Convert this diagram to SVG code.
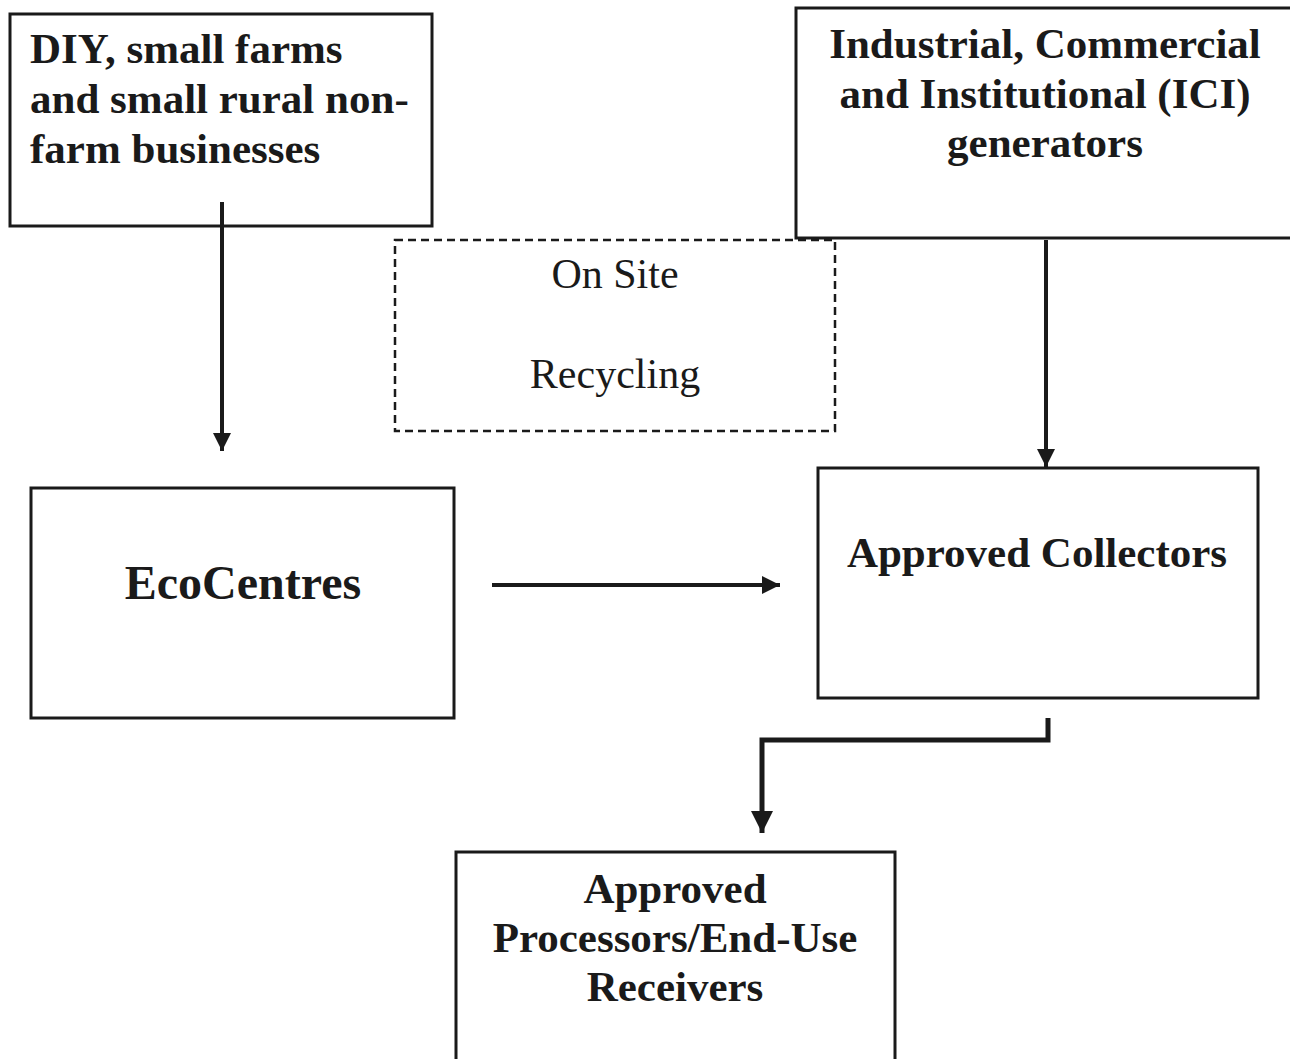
<svg xmlns="http://www.w3.org/2000/svg" width="1290" height="1059" viewBox="0 0 1290 1059">
<defs>
<style>
.box{fill:#fff;stroke:#1a1a1a;stroke-width:3}
.dash{fill:none;stroke:#1a1a1a;stroke-width:2.5;stroke-dasharray:8,5}
.b{font-family:"Liberation Serif",serif;font-weight:bold;font-size:43px;fill:#1a1a1a}
.n{font-family:"Liberation Serif",serif;font-size:42px;fill:#1a1a1a}
.c{text-anchor:middle}
.line{fill:none;stroke:#1a1a1a;stroke-width:4}
</style>
<marker id="ah" viewBox="0 0 10 10" refX="10" refY="5" markerWidth="4.5" markerHeight="6" markerUnits="strokeWidth" orient="auto">
<path d="M0,0 L10,5 L0,10 Z" fill="#1a1a1a"/>
</marker>
</defs>
<rect width="1290" height="1059" fill="#fff"/>
<g id="node-diy">
<rect class="box" x="10" y="14" width="422" height="212"/>
<text class="b" x="30" y="63">DIY, small farms</text>
<text class="b" x="30" y="113">and small rural non-</text>
<text class="b" x="30" y="163">farm businesses</text>
</g>
<g id="node-ici">
<rect class="box" x="796" y="8" width="500" height="230"/>
<text class="b c" x="1045" y="58">Industrial, Commercial</text>
<text class="b c" x="1045" y="108">and Institutional (ICI)</text>
<text class="b c" x="1045" y="157">generators</text>
</g>
<g id="node-onsite">
<rect class="dash" x="395" y="240" width="440" height="191"/>
<text class="n c" x="615" y="288">On Site</text>
<text class="n c" x="615" y="388">Recycling</text>
</g>
<g id="node-ecocentres">
<rect class="box" x="31" y="488" width="423" height="230"/>
<text class="b c" x="243" y="599" style="font-size:48px">EcoCentres</text>
</g>
<g id="node-collectors">
<rect class="box" x="818" y="468" width="440" height="230"/>
<text class="b c" x="1037" y="567">Approved Collectors</text>
</g>
<g id="node-processors">
<rect class="box" x="456" y="852" width="439" height="230"/>
<text class="b c" x="675" y="903">Approved</text>
<text class="b c" x="675" y="952">Processors/End-Use</text>
<text class="b c" x="675" y="1001">Receivers</text>
</g>
<g id="connectors">
<line class="line" x1="222" y1="202" x2="222" y2="451" marker-end="url(#ah)"/>
<line class="line" x1="1046" y1="240" x2="1046" y2="467" marker-end="url(#ah)"/>
<line class="line" x1="492" y1="585" x2="780" y2="585" marker-end="url(#ah)"/>
<polyline class="line" style="stroke-width:5" points="1048,718 1048,740 762,740 762,833" marker-end="url(#ah)"/>
</g>
</svg>
